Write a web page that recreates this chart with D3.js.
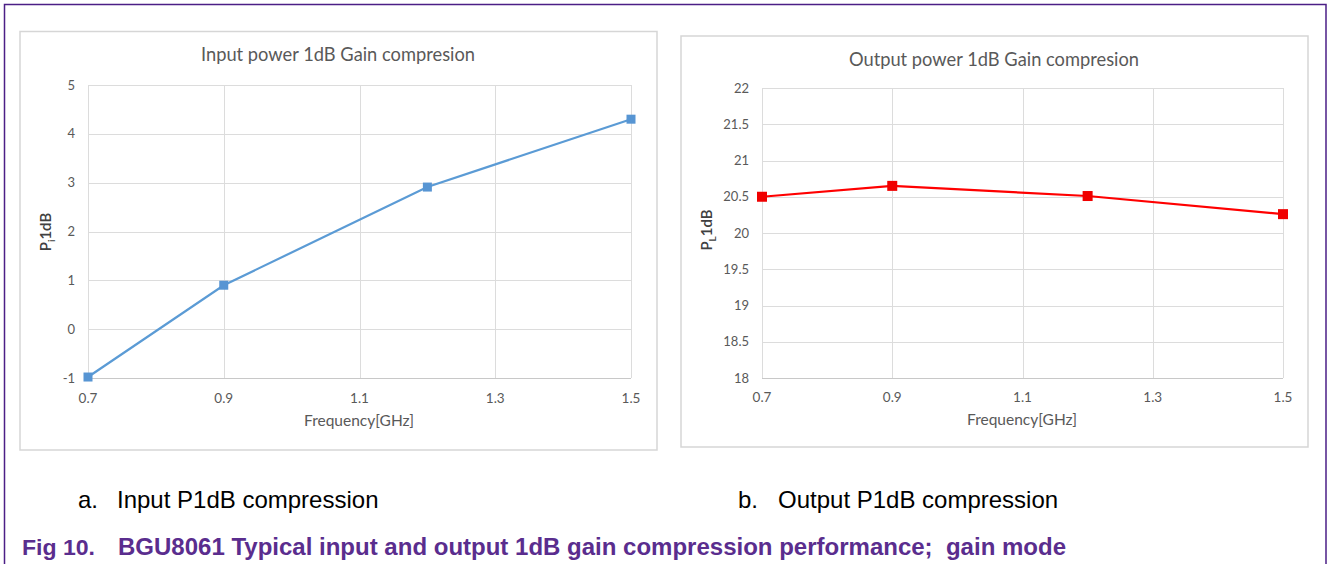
<!DOCTYPE html>
<html>
<head>
<meta charset="utf-8">
<script src="https://cdn.jsdelivr.net/npm/d3@7"></script>
<style>
  html, body { margin: 0; padding: 0; background: #fff; }
  svg { display: block; }
</style>
</head>
<body>
<svg id="fig" width="1330" height="564"></svg>
<script>
// ---- data ----
const freqs = [0.7, 0.9, 1.2, 1.5];
const inputP1dB = [-0.98, 0.9, 2.91, 4.3];
const outputP1dB = [20.5, 20.65, 20.51, 20.26];
const xTicks = [0.7, 0.9, 1.1, 1.3, 1.5];
const inputYTicks = [-1, 0, 1, 2, 3, 4, 5];
const outputYTicks = [18, 18.5, 19, 19.5, 20, 20.5, 21, 21.5, 22];
const chartTitles = ["Input power 1dB Gain compresion", "Output power 1dB Gain compresion"];
const xAxisTitle = "Frequency[GHz]";
const yAxisSubs = ["i", "L"];
const subLabels = ["a.", "b."];
const subCaptions = ["Input P1dB compression", "Output P1dB compression"];
const figLabel = "Fig 10.";
const figCaption = "BGU8061 Typical input and output 1dB gain compression performance;\u00a0 gain mode";

const svg = d3.select("#fig");
const FONT = "Lato, 'Open Sans', sans-serif";
const TXT = "#595959";

// outer frame
const frameColor = "#4b1f86";
svg.append("path")
  .attr("d", "M4.5,564 L4.5,4.5 L1326,4.5 L1326,564")
  .attr("fill", "none").attr("stroke", frameColor).attr("stroke-width", 1.5);

function drawChart(cfg) {
  const g = svg.append("g");
  g.append("rect")
    .attr("x", cfg.box[0]).attr("y", cfg.box[1])
    .attr("width", cfg.box[2]).attr("height", cfg.box[3])
    .attr("fill", "#fff").attr("stroke", "#d6d6d6").attr("stroke-width", 1.5);

  const x = d3.scaleLinear().domain([0.7, 1.5]).range([cfg.plot[0], cfg.plot[1]]);
  const y = d3.scaleLinear().domain(cfg.yDomain).range([cfg.plot[3], cfg.plot[2]]);

  g.append("g").selectAll("line").data(cfg.yTicks).join("line")
    .attr("x1", cfg.plot[0]).attr("x2", cfg.plot[1])
    .attr("y1", d => Math.round(y(d)) + 0.5).attr("y2", d => Math.round(y(d)) + 0.5)
    .attr("stroke", "#dcdcdc").attr("stroke-width", 1);
  g.append("g").selectAll("line").data(xTicks).join("line")
    .attr("x1", d => Math.round(x(d)) + 0.5).attr("x2", d => Math.round(x(d)) + 0.5)
    .attr("y1", cfg.plot[2]).attr("y2", cfg.plot[3])
    .attr("stroke", "#dcdcdc").attr("stroke-width", 1);
  g.append("line")
    .attr("x1", cfg.plot[0]).attr("x2", cfg.plot[1])
    .attr("y1", Math.round(y(cfg.yDomain[0])) + 0.5).attr("y2", Math.round(y(cfg.yDomain[0])) + 0.5)
    .attr("stroke", "#c8c8c8").attr("stroke-width", 1.2);

  g.append("g").selectAll("text").data(cfg.yTicks).join("text")
    .attr("x", cfg.yLabelX).attr("y", d => y(d))
    .attr("dy", "0.35em").attr("text-anchor", "end")
    .attr("font-family", FONT).attr("font-size", 13).attr("fill", TXT)
    .text(d => d);
  g.append("g").selectAll("text").data(xTicks).join("text")
    .attr("x", d => x(d)).attr("y", cfg.xLabelY)
    .attr("text-anchor", "middle")
    .attr("font-family", FONT).attr("font-size", 13.5).attr("fill", TXT)
    .text(d => d3.format(".1f")(d));

  g.append("text").attr("x", cfg.titlePos[0]).attr("y", cfg.titlePos[1])
    .attr("text-anchor", "middle").attr("font-family", FONT).attr("font-size", 18.3)
    .attr("fill", TXT).text(cfg.title);
  g.append("text").attr("x", cfg.xTitlePos[0]).attr("y", cfg.xTitlePos[1])
    .attr("text-anchor", "middle").attr("font-family", FONT).attr("font-size", 15.5)
    .attr("fill", TXT).text(xAxisTitle);
  const yt = g.append("text")
    .attr("transform", `translate(${cfg.yTitlePos[0]},${cfg.yTitlePos[1]}) rotate(-90)`)
    .attr("text-anchor", "middle").attr("font-family", FONT).attr("font-size", 15)
    .attr("font-weight", 600).attr("fill", "#404040");
  yt.append("tspan").text("P");
  yt.append("tspan").attr("font-size", 10).attr("dy", 4).text(cfg.sub);
  yt.append("tspan").attr("dy", -4).text("1dB");

  const pts = freqs.map((f, i) => [f, cfg.values[i]]);
  g.append("path").datum(pts)
    .attr("d", d3.line().x(d => x(d[0])).y(d => y(d[1])))
    .attr("fill", "none").attr("stroke", cfg.color).attr("stroke-width", 2.2);
  g.append("g").selectAll("rect").data(pts).join("rect")
    .attr("x", d => x(d[0]) - cfg.ms / 2).attr("y", d => y(d[1]) - cfg.ms / 2)
    .attr("width", cfg.ms).attr("height", cfg.ms)
    .attr("fill", cfg.markerColor);
}

drawChart({
  box: [20, 31.5, 637, 418.5],
  plot: [88, 631, 85, 378],
  yDomain: [-1, 5],
  yTicks: inputYTicks,
  values: inputP1dB,
  yLabelX: 75,
  xLabelY: 403,
  title: chartTitles[0],
  titlePos: [338, 61],
  xTitlePos: [359, 426],
  yTitlePos: [51, 232],
  sub: yAxisSubs[0],
  color: "#5b9bd5",
  markerColor: "#5795d3",
  ms: 9
});

drawChart({
  box: [681, 36, 627, 411],
  plot: [762, 1283, 88, 378],
  yDomain: [18, 22],
  yTicks: outputYTicks,
  values: outputP1dB,
  yLabelX: 749,
  xLabelY: 402,
  title: chartTitles[1],
  titlePos: [994, 66],
  xTitlePos: [1022, 425],
  yTitlePos: [712, 230],
  sub: yAxisSubs[1],
  color: "#ff0000",
  markerColor: "#f00000",
  ms: 10
});

// sub captions
const capFont = "'Liberation Sans', Arial, sans-serif";
svg.append("g").selectAll("text").data(subLabels).join("text")
  .attr("x", (d, i) => [78, 738][i]).attr("y", 508)
  .attr("font-family", capFont).attr("font-size", 24)
  .attr("fill", "#000").text(d => d);
svg.append("g").selectAll("text").data(subCaptions).join("text")
  .attr("x", (d, i) => [117, 778][i]).attr("y", 508)
  .attr("font-family", capFont).attr("font-size", 24)
  .attr("fill", "#000").text(d => d);

// figure caption
svg.append("text").attr("x", 22).attr("y", 555)
  .attr("font-family", capFont).attr("font-size", 22)
  .attr("font-weight", "bold").attr("fill", "#5a2d8e")
  .attr("textLength", 73).attr("lengthAdjust", "spacingAndGlyphs").text(figLabel);
svg.append("text").attr("x", 118).attr("y", 555)
  .attr("font-family", capFont).attr("font-size", 23)
  .attr("font-weight", "bold").attr("fill", "#5a2d8e")
  .attr("textLength", 948).attr("lengthAdjust", "spacingAndGlyphs").text(figCaption);
</script>
</body>
</html>
